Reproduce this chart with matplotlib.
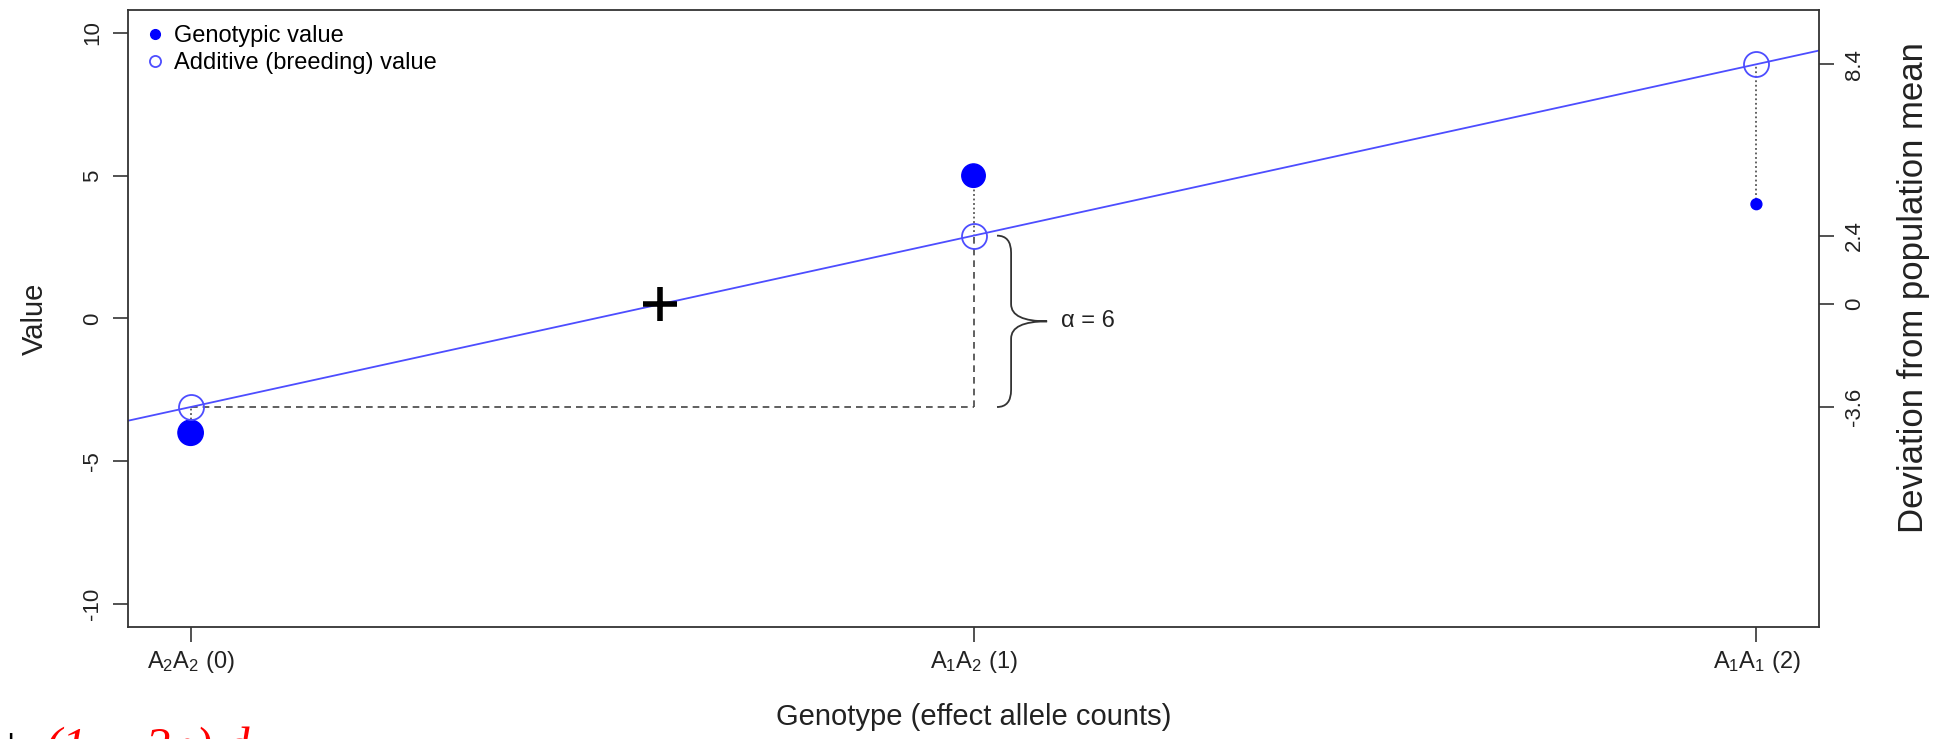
import matplotlib
matplotlib.use('Agg')
import matplotlib.pyplot as plt
from matplotlib.lines import Line2D
from matplotlib.path import Path
from matplotlib.patches import PathPatch

plt.rcParams['font.family'] = ['Liberation Sans', 'DejaVu Sans']
plt.rcParams['mathtext.fontset'] = 'custom'
plt.rcParams['mathtext.rm'] = 'Liberation Sans'
plt.rcParams['mathtext.it'] = 'Liberation Sans:italic'

# data
genotype_labels = ['A$_2$A$_2$ (0)', 'A$_1$A$_2$ (1)', 'A$_1$A$_1$ (2)']
allele_count = [0, 1, 2]
genotypic_value = [-4, 5, 4]
breeding_value = [-3.1, 2.9, 8.9]
genotype_freq = [0.49, 0.42, 0.09]
pop_mean_x = 0.6
pop_mean = 0.5
alpha = 6
dev_ticks = [-3.6, 0, 2.4, 8.4]
left_ticks = [-10, -5, 0, 5, 10]

blue = '#0000ff'
lblue = '#4d4dff'
ink = '#222222'

fig = plt.figure(figsize=(19.36, 7.39), dpi=100)
ax = fig.add_axes([0.0661, 0.1516, 0.8735, 0.8349])

# regression line (slope = alpha)
ax.axline((allele_count[0], breeding_value[0]), slope=alpha, color=lblue, lw=1.3, zorder=2)

# dotted lines genotypic -> breeding value
for x, g, b in zip(allele_count, genotypic_value, breeding_value):
    ax.plot([x, x], [g, b], color='#555555', ls=(0, (1, 1.5)), lw=1.3, zorder=1)

# dashed helper lines
ax.plot([allele_count[0], allele_count[1]], [breeding_value[0], breeding_value[0]],
        color='#444444', ls=(0, (4, 3)), lw=1.2, zorder=1)
ax.plot([allele_count[1], allele_count[1]], [breeding_value[0], breeding_value[1]],
        color='#444444', ls=(0, (4, 3)), lw=1.2, zorder=1)

# points
ax.scatter(allele_count, genotypic_value, s=[f * 680 for f in genotype_freq], color=blue, zorder=4)
ax.plot(allele_count, breeding_value, 'o', ms=18, mfc='none', mec=lblue, mew=1.3, zorder=4)
ax.plot([pop_mean_x], [pop_mean], '+', ms=24, mew=4, color='black', zorder=5)

# brace
y_top, y_bot = breeding_value[1], breeding_value[0]
y_mid = (y_top + y_bot) / 2
x0, x1, x2 = 1.03, 1.048, 1.094
r = 0.6
verts = [(x0, y_top), (x1, y_top), (x1, y_top - r),
         (x1, y_mid + r),
         (x1, y_mid), (x2, y_mid),
         (x1, y_mid), (x1, y_mid - r),
         (x1, y_bot + r),
         (x1, y_bot), (x0, y_bot)]
codes = [Path.MOVETO, Path.CURVE3, Path.CURVE3, Path.LINETO, Path.CURVE3, Path.CURVE3,
         Path.CURVE3, Path.CURVE3, Path.LINETO, Path.CURVE3, Path.CURVE3]
ax.add_patch(PathPatch(Path(verts, codes), fill=False, ec='#333333', lw=1.3))
ax.text(1.112, y_mid, '\u03b1 = %d' % alpha, fontsize=17, va='center', ha='left', color=ink)

# axes
ax.set_xlim(-0.08, 2.08)
ax.set_ylim(-10.8, 10.8)
ax.set_xticks(allele_count)
ax.set_xticklabels(genotype_labels, fontsize=17, color=ink)
ax.set_yticks(left_ticks)
ax.set_yticklabels([str(t) for t in left_ticks], fontsize=16, color=ink, rotation=90, va='center')
ax.tick_params(direction='out', length=11, width=1.2, color='#333333', pad=7)
ax.tick_params(axis='x', pad=5)
ax.set_xlabel('Genotype (effect allele counts)', fontsize=21, color=ink, labelpad=20)
ax.set_ylabel('Value', fontsize=21, color=ink, labelpad=24)
for s in ax.spines.values():
    s.set_color('#333333')
    s.set_linewidth(1.3)

ax2 = ax.twinx()
ax2.set_ylim(ax.get_ylim())
ax2.set_yticks([pop_mean + d for d in dev_ticks])
ax2.set_yticklabels([('%g' % d) for d in dev_ticks], fontsize=16, color=ink, rotation=90, va='center')
ax2.tick_params(direction='out', length=11, width=1.2, color='#333333', pad=7)
ax2.set_ylabel('Deviation from population mean', fontsize=25, color=ink)
ax2.yaxis.set_label_coords(1.046, 0.55)
for s in ax2.spines.values():
    s.set_visible(False)

handles = [Line2D([], [], marker='o', ls='none', color=blue, ms=7),
           Line2D([], [], marker='o', ls='none', mfc='none', mec=lblue, mew=1.3, ms=8)]
ax.legend(handles, ['Genotypic value', 'Additive (breeding) value'], loc='upper left',
          frameon=False, fontsize=17, handletextpad=0.3, borderaxespad=0.25,
          labelspacing=0.2, handlelength=1.0)

# cut-off formula fragment at bottom
fig.text(-0.002, -0.031, '+', fontsize=36, family='Liberation Serif', color='black')
fig.text(0.023, -0.031, '(1 \u2212 2p) d', fontsize=36, family='Liberation Serif',
         style='italic', color='red')

fig.savefig('out.png', dpi=100)
